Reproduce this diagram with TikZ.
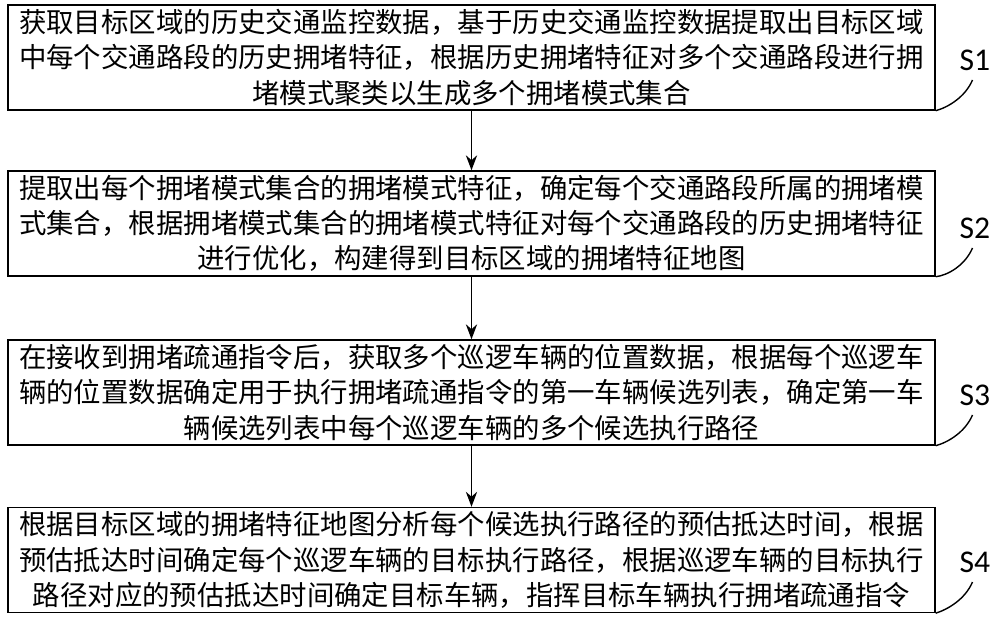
\documentclass[tikz,border=0pt]{standalone}
\usepackage{fontspec}
\newfontfamily\cjk{Noto Sans CJK SC}
\newfontfamily\lbl{Carlito}
\usetikzlibrary{arrows.meta}
\tikzset{
  stepbox/.style={draw, thick, minimum width=18.54cm, minimum height=2.1cm, align=center,
    font=\cjk\fontsize{15.6pt}{20pt}\selectfont, inner sep=2pt},
  steplabel/.style={font=\lbl\fontsize{18pt}{20pt}\selectfont},
}
\begin{document}
\begin{tikzpicture}
    \useasboundingbox (0,0) rectangle (20,-12.44);
    % Steps
    \node[stepbox] (s1) at (9.43,-1.15) {获取目标区域的历史交通监控数据，基于历史交通监控数据提取出目标区域\\中每个交通路段的历史拥堵特征，根据历史拥堵特征对多个交通路段进行拥\\堵模式聚类以生成多个拥堵模式集合};
    \node[stepbox] (s2) at (9.43,-4.47) {提取出每个拥堵模式集合的拥堵模式特征，确定每个交通路段所属的拥堵模\\式集合，根据拥堵模式集合的拥堵模式特征对每个交通路段的历史拥堵特征\\进行优化，构建得到目标区域的拥堵特征地图};
    \node[stepbox] (s3) at (9.43,-7.85) {在接收到拥堵疏通指令后，获取多个巡逻车辆的位置数据，根据每个巡逻车\\辆的位置数据确定用于执行拥堵疏通指令的第一车辆候选列表，确定第一车\\辆候选列表中每个巡逻车辆的多个候选执行路径};
    \node[stepbox] (s4) at (9.43,-11.2) {根据目标区域的拥堵特征地图分析每个候选执行路径的预估抵达时间，根据\\预估抵达时间确定每个巡逻车辆的目标执行路径，根据巡逻车辆的目标执行\\路径对应的预估抵达时间确定目标车辆，指挥目标车辆执行拥堵疏通指令};

    % Arrows
    \foreach \a/\b in {s1/s2, s2/s3, s3/s4}
      \draw[thick, -{Stealth[length=3mm]}] (\a) -- (\b);

    % Labels
    \foreach \s/\y in {1/-1.2, 2/-4.56, 3/-7.9, 4/-11.24} {
      \node[steplabel] (l\s) at (19.5,\y) {S\s};
      \draw[thick] (s\s.south east) .. controls (18.95,\y-0.95) and (19.3,\y-0.75) .. (19.45,\y-0.4);
    }
\end{tikzpicture}
\end{document}
